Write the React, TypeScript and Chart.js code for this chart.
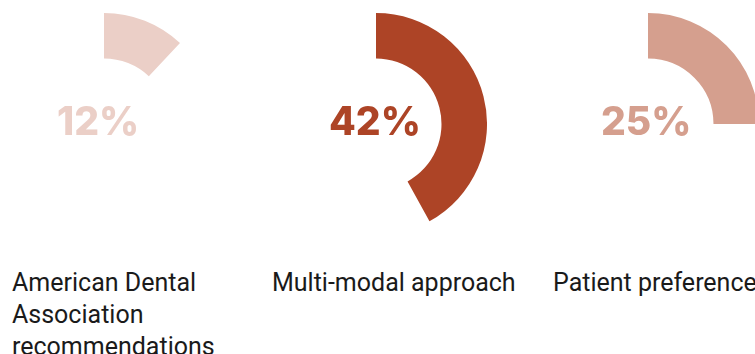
import React, { useEffect, useRef } from "react";
import { Chart, registerables } from "chart.js";

Chart.register(...registerables);

const CATEGORIES = [
  "American Dental Association recommendations",
  "Multi-modal approach",
  "Patient preference",
];
const VALUES = [12, 42, 25];
const TOTAL = 100;
const COLORS = ["#EBCFC7", "#AD4426", "#D59F8E"];

const CENTERS_X = [104, 376, 648];
const CENTER_Y = 124;
const RADIUS = 111;
const LABEL_X = [12, 272, 553];

function Ring({ index }: { index: number }) {
  const ref = useRef<HTMLCanvasElement | null>(null);
  useEffect(() => {
    if (!ref.current) return;
    const value = VALUES[index];
    const color = COLORS[index];
    const textPlugin = {
      id: "centerText",
      afterDraw(chart: any) {
        const meta = chart.getDatasetMeta(0);
        const arc = meta.data[0];
        if (!arc) return;
        const ctx = chart.ctx;
        ctx.save();
        ctx.font = "800 39px Inter";
        ctx.fillStyle = color;
        ctx.textAlign = "left";
        ctx.textBaseline = "alphabetic";
        ctx.fillText(`${value}%`, arc.x - 47, arc.y + 11);
        ctx.restore();
      },
    };
    const chart = new Chart(ref.current, {
      type: "doughnut",
      data: {
        labels: [CATEGORIES[index], "rest"],
        datasets: [
          {
            data: [value, TOTAL - value],
            backgroundColor: [color, "rgba(0,0,0,0)"],
            borderWidth: 0,
          },
        ],
      },
      options: {
        responsive: false,
        animation: false,
        events: [],
        cutout: "59%",
        layout: { padding: 0 },
        plugins: {
          legend: { display: false },
          tooltip: { enabled: false },
        },
      },
      plugins: [textPlugin],
    });
    return () => chart.destroy();
  }, [index]);
  return (
    <canvas
      ref={ref}
      width={RADIUS * 2}
      height={RADIUS * 2}
      style={{
        position: "absolute",
        left: CENTERS_X[index] - RADIUS,
        top: CENTER_Y - RADIUS,
        width: RADIUS * 2,
        height: RADIUS * 2,
      }}
    />
  );
}

export default function App() {
  return (
    <div
      style={{
        position: "fixed",
        left: 0,
        top: 0,
        width: 755,
        height: 354,
        overflow: "hidden",
        background: "#ffffff",
      }}
    >
      {VALUES.map((_, i) => (
        <Ring key={i} index={i} />
      ))}
      {CATEGORIES.map((c, i) => (
        <div
          key={c}
          style={{
            position: "absolute",
            left: LABEL_X[i],
            top: 267,
            width: 230,
            fontFamily: "Roboto, sans-serif",
            fontSize: 25,
            lineHeight: "32px",
            color: "#1a1a1a",
            whiteSpace: i === 0 ? "normal" : "nowrap",
          }}
        >
          {c}
        </div>
      ))}
    </div>
  );
}
